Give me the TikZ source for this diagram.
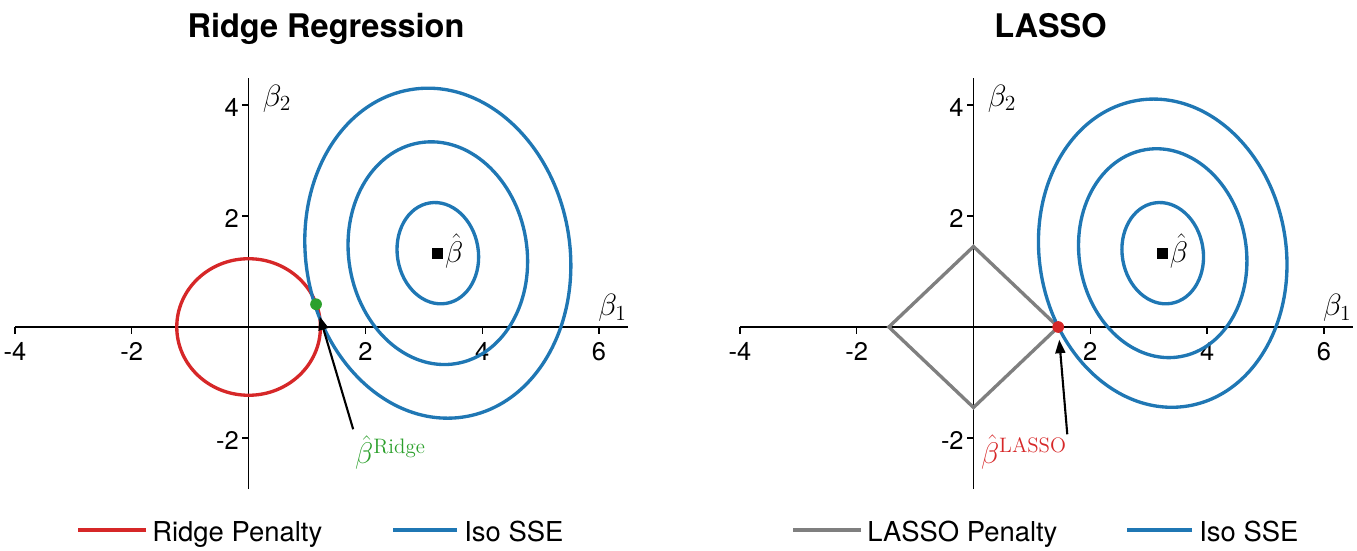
\documentclass[tikz,border=0pt]{standalone}
\usepackage{fix-cm}
\usepackage{fontspec}
\newfontfamily\heros{TeX Gyre Heros}
\usetikzlibrary{arrows.meta}

\definecolor{penred}{HTML}{D62728}
\definecolor{sseblue}{HTML}{1F77B4}
\definecolor{ptgreen}{HTML}{2CA02C}
\definecolor{pengray}{HTML}{7F7F7F}

\begin{document}
\begin{tikzpicture}[
  x=1.168cm, y=1.11cm,
  axis/.style={line width=0.75pt},
  xnum/.style={font=\heros\fontsize{14.5}{17}\selectfont, inner sep=0pt, anchor=north, yshift=-0.3cm},
  ynum/.style={font=\heros\fontsize{14.5}{17}\selectfont, inner sep=0pt, anchor=east, xshift=-0.19cm, yshift=-0.05cm},
  axlbl/.style={font=\fontsize{17.5}{21}\selectfont, inner sep=0pt},
  blbl/.style={font=\fontsize{17}{20}\selectfont, inner sep=0pt},
  contour/.style={line width=1.9pt, sseblue},
  penalty/.style={line width=1.9pt},
  dot/.style={circle, inner sep=0pt, minimum size=0.235cm},
  olsmark/.style={fill=black, inner sep=0pt, minimum size=0.22cm},
  pointer/.style={line width=1.2pt, -{Triangle[length=0.27cm, width=0.2cm]}, shorten >=0.13cm},
  ttl/.style={font=\heros\bfseries\fontsize{18.5}{22}\selectfont, inner sep=0pt, anchor=base},
  legtxt/.style={font=\heros\fontsize{15.6}{19}\selectfont, inner sep=0pt, anchor=base west},
]
\useasboundingbox (0cm,0cm) rectangle (27.14cm,11cm);

% axes of both panels
\foreach \ox/\pn in {4.972/L,19.47/R} {
  \begin{scope}[shift={(\ox cm,4.46cm)}]
    \draw[axis] (-4,0) -- (6.5,0);
    \draw[axis] (0,-2.92) -- (0,4.48);
    \foreach \t in {-4,-2,...,6} \draw[axis] (\t,0) -- ++(0,-0.134cm);
    \foreach \t in {-2,0,2,4} \draw[axis] (0,\t) -- ++(-0.14cm,0);
    \foreach \t in {-4,-2,2,4,6} \node[xnum] (xt\pn\t) at (\t,0) {\t};
    \foreach \t in {-2,2,4} \node[ynum] (yt\pn\t) at (0,\t) {\t};
    \node[axlbl, anchor=south east] (bone\pn) at (6.48,0.09) {$\beta_1$};
    \node[axlbl, anchor=north west] (btwo\pn) at (0.24,4.37) {$\beta_2$};
  \end{scope}
}

% ridge
\begin{scope}[shift={(4.972cm,4.46cm)}]
  \draw[penalty, penred] (0,0) circle (1.23);
  \begin{scope}[shift={(3.24,1.33)}, rotate=9.4]
    \draw[contour] (0,0) ellipse (2.64cm and 3.316cm);
    \draw[contour] (0,0) ellipse (1.782cm and 2.238cm);
    \draw[contour] (0,0) ellipse (0.81cm and 1.018cm);
  \end{scope}
  \node[olsmark] (olsL) at (3.24,1.33) {};
  \node[blbl, anchor=west, xshift=0.02cm, yshift=0.05cm] (olslblL) at (olsL.east) {$\hat{\beta}$};
  \node[dot, fill=ptgreen] (ridgept) at (1.155,0.41) {};
  \node[blbl, text=ptgreen, anchor=north west] (ridgelbl) at (1.82,-1.946) {$\hat{\beta}^{\mathrm{Ridge}}$};
  \draw[pointer, shorten <=0.12cm] (ridgelbl.north west) -- (ridgept);
\end{scope}

% lasso
\begin{scope}[shift={(19.47cm,4.46cm)}]
  \draw[penalty, pengray] (1.45,0) -- (0,1.45) -- (-1.45,0) -- (0,-1.45) -- cycle;
  \begin{scope}[shift={(3.24,1.33)}, rotate=9.4]
    \draw[contour] (0,0) ellipse (2.466cm and 3.097cm);
    \draw[contour] (0,0) ellipse (1.671cm and 2.099cm);
    \draw[contour] (0,0) ellipse (0.81cm and 1.018cm);
  \end{scope}
  \node[olsmark] (olsR) at (3.24,1.33) {};
  \node[blbl, anchor=west, xshift=0.02cm, yshift=0.05cm] (olslblR) at (olsR.east) {$\hat{\beta}$};
  \node[dot, fill=penred] (lassopt) at (1.45,0) {};
  \node[blbl, text=penred, anchor=north west] (lassolbl) at (0.123,-1.933) {$\hat{\beta}^{\mathrm{LASSO}}$};
  \draw[pointer] (lassolbl.north east) -- (lassopt);
\end{scope}

% titles
\node[ttl] (ridgettl) at (6.52cm,10.254cm) {Ridge Regression};
\node[ttl] (lassottl) at (21.01cm,10.254cm) {LASSO};

% legends
\node[legtxt] (ridgeleg) at (3.04cm,0.166cm) {Ridge Penalty};
\draw[penalty, penred] ([shift={(-0.12cm,0.234cm)}]ridgeleg.base west) -- ++(-1.36cm,0);
\node[legtxt] (sselegL) at (9.28cm,0.166cm) {Iso SSE};
\draw[contour] ([shift={(-0.14cm,0.234cm)}]sselegL.base west) -- ++(-1.28cm,0);
\node[legtxt] (lassoleg) at (17.34cm,0.166cm) {LASSO Penalty};
\draw[penalty, pengray] ([shift={(-0.12cm,0.234cm)}]lassoleg.base west) -- ++(-1.36cm,0);
\node[legtxt] (sselegR) at (23.98cm,0.166cm) {Iso SSE};
\draw[contour] ([shift={(-0.14cm,0.234cm)}]sselegR.base west) -- ++(-1.30cm,0);
\end{tikzpicture}
\end{document}
